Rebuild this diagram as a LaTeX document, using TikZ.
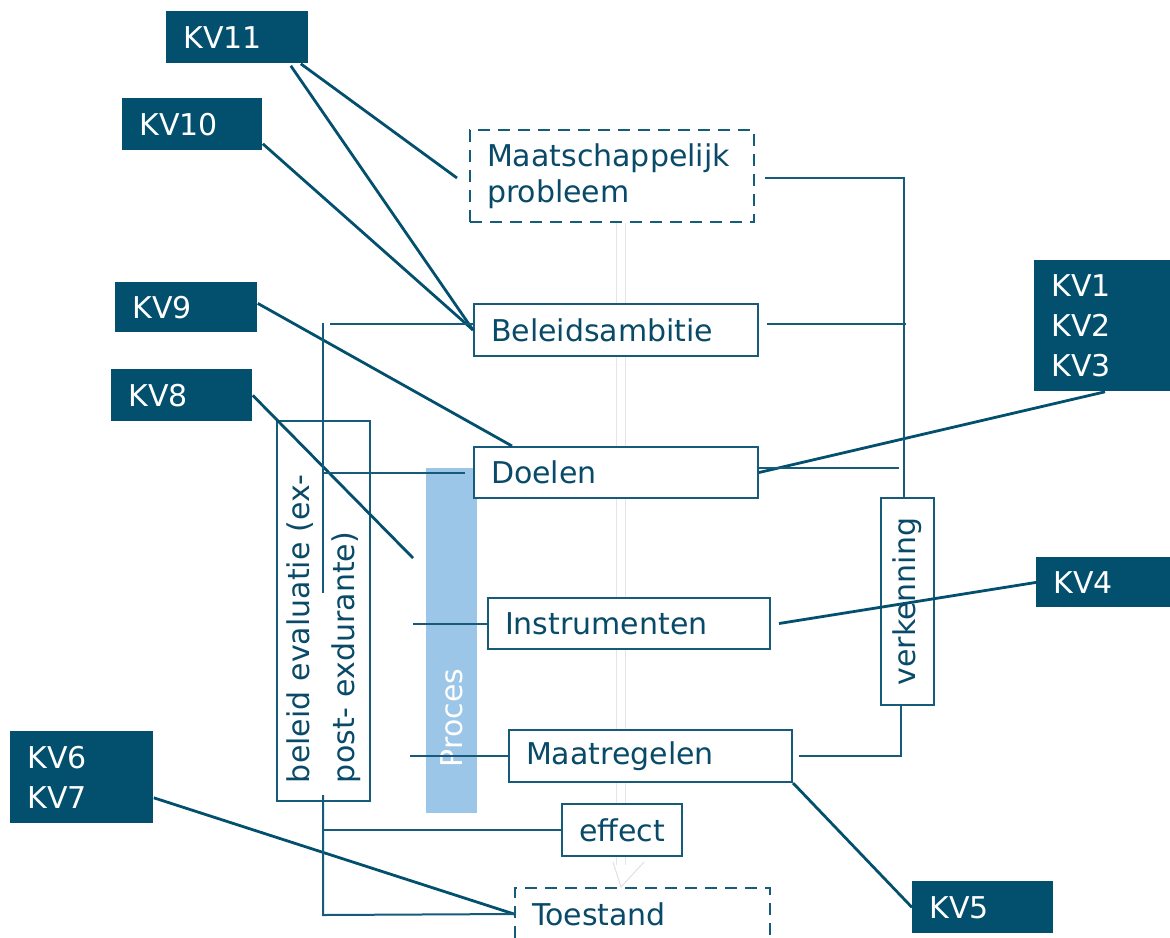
\documentclass[tikz,border=0pt]{standalone}
\usepackage{fontspec}
\setmainfont{DejaVu Sans}
\usetikzlibrary{calc}
\definecolor{kvdark}{RGB}{3,80,110}
\definecolor{linecol}{RGB}{22,92,122}
\definecolor{txtcol}{RGB}{8,74,104}
\definecolor{procblue}{RGB}{155,198,232}
\newcommand\pxu{0.5pt}

\begin{document}
\begin{tikzpicture}[x=0.5pt,y=-0.5pt,
  kv/.style 2 args={fill=kvdark, text=white, anchor=north west, align=left,
    inner xsep=17*\pxu, inner ysep=0pt, font=\fontsize{15}{20}\selectfont,
    text width=(#1-34)*\pxu, minimum height=#2*\pxu},
  stage/.style 2 args={draw=linecol, line width=1pt, fill=white, text=txtcol,
    anchor=north west, align=left, inner xsep=17*\pxu, inner ysep=0pt,
    font=\fontsize{15}{18}\selectfont,
    text width=(#1-34)*\pxu, minimum height=#2*\pxu},
  dashbox/.style={dash pattern=on 6pt off 4pt},
  conn/.style={draw=kvdark, line width=1.4pt},
  brk/.style={draw=linecol, line width=1pt},
  faint/.style={draw=black!10, line width=0.5pt, double=white, double distance=8*\pxu},
]
\useasboundingbox (0,0) rectangle (1170,937);
\clip (0,0) rectangle (1170,937);

% process band
\node[fill=procblue, rotate=90, minimum width=345*\pxu, minimum height=51*\pxu,
  inner xsep=46*\pxu, inner ysep=0pt, text width=(345-92)*\pxu, align=left,
  text=white, font=\fontsize{15}{18}\selectfont] (proc) at (451.5,640.5) {Proces};

% policy chain
\node[stage={284}{92}, dashbox] (mp) at (469,129) {Maatschappelijk\\probleem};
\node[stage={284}{52}] (ba) at (473,303) {Beleidsambitie};
\node[stage={284}{51}] (doel) at (473,446) {Doelen};
\node[stage={282}{51}] (instr) at (487,597) {Instrumenten};
\node[stage={283}{52}] (maat) at (508,729) {Maatregelen};
\node[stage={120}{52}] (eff) at (561,803) {effect};
\node[stage={255}{52}, dashbox] (toe) at (514,887) {Toestand};

% side frames
\node[draw=linecol, line width=1pt, rotate=90, minimum width=380*\pxu,
  minimum height=93*\pxu, inner xsep=18*\pxu, inner ysep=0pt,
  text width=(380-36)*\pxu, align=left, text=txtcol,
  font=\fontsize{15}{22.5}\selectfont] (eval) at (323.5,611)
  {beleid evaluatie (ex-\\post- exdurante)};
\node[draw=linecol, line width=1pt, rotate=90, minimum width=207*\pxu,
  minimum height=53*\pxu, inner sep=0pt, text=txtcol,
  font=\fontsize{15}{18}\selectfont] (verk) at (907.5,601.5) {verkenning};

% key questions
\node[kv={142}{52}] (kv11) at (166,11) {KV11};
\node[kv={140}{52}] (kv10) at (122,98) {KV10};
\node[kv={142}{50}] (kv9) at (115,282) {KV9};
\node[kv={141}{52}] (kv8) at (111,369) {KV8};
\node[kv={143}{92}] (kv67) at (10,731) {KV6\\KV7};
\node[kv={146}{131}] (kv123) at (1034,260) {KV1\\KV2\\KV3};
\node[kv={144}{50}] (kv4) at (1036,557) {KV4};
\node[kv={141}{52}] (kv5) at (912,881) {KV5};

% faint flow arrows through the chain
\coordinate (fx) at (621,0);
\draw[faint] (fx |- mp.south) -- (fx |- ba.north);
\draw[faint] (fx |- ba.south) -- (fx |- doel.north);
\draw[faint] (fx |- doel.south) -- (fx |- instr.north);
\draw[faint] (fx |- instr.south) -- (fx |- maat.north);
\draw[faint] (fx |- maat.south) -- (fx |- eff.north);
\draw[faint] (fx |- eff.south) -- ($(fx |- eff.south)+(0,8)$);
\coordinate (tipl) at (613,862);
\coordinate (tipr) at (644,862);
\draw[black!12, line width=0.5pt] (tipl) -- (fx |- toe.north) -- (tipr);

% key question connectors
\coordinate (mpend) at (457,178);
\coordinate (kv8end) at (413,558);
\draw[conn] ($(kv11.south east)+(-8,0)$) -- (mpend);
\draw[conn] ($(kv11.south east)+(-18,2)$) -- (ba.west);
\draw[conn] ($(kv10.south east)+(0,-7)$) -- (ba.west);
\draw[conn] ($(kv9.east)+(0,-4)$) -- ($(doel.north west)+(39,0)$);
\draw[conn] (kv8.east) -- (kv8end);
\draw[conn] ($(kv123.south west)+(71,0)$) -- (doel.east);
\draw[conn] (kv4.west) -- ($(instr.east)+(8,0)$);
\draw[conn] (kv5.west) -- (maat.south east);
\draw[conn] ($(kv67.south east)+(0,-26)$) -- (toe.west);

% right bracket (verkenning)
\draw[brk] ($(mp.east)+(10,2)$) -| ($(verk.east)+(-3.5,0)$);
\draw[brk] ($(ba.east)+(8,-6)$) -- ++(139,0);
\draw[brk] ($(doel.east)+(0,-5)$) -- ++(140,0);
\draw[brk] ($(verk.west)+(-6.5,0)$) |- ($(maat.east)+(6,0)$);

% left bracket (evaluatie)
\coordinate (lt) at (323,323);
\coordinate (lm) at (323,593);
\coordinate (lb1) at (323,795);
\coordinate (lb2) at (323,915);
\draw[brk] (lt) -- (lm);
\draw[brk] ($(ba.west)+(-143,-6)$) -- ($(ba.west)+(0,-6)$);
\draw[brk] (lt |- doel.west) -- ($(doel.west)+(-8,0)$);
\draw[brk] ($(instr.west)+(-74,0)$) -- (instr.west);
\draw[brk] ($(maat.west)+(-98,0)$) -- (maat.west);
\draw[brk] (lb1) -- (lb2) -- (toe.west);
\draw[brk] (lb1 |- eff.west) -- (eff.west);
\end{tikzpicture}
\end{document}
